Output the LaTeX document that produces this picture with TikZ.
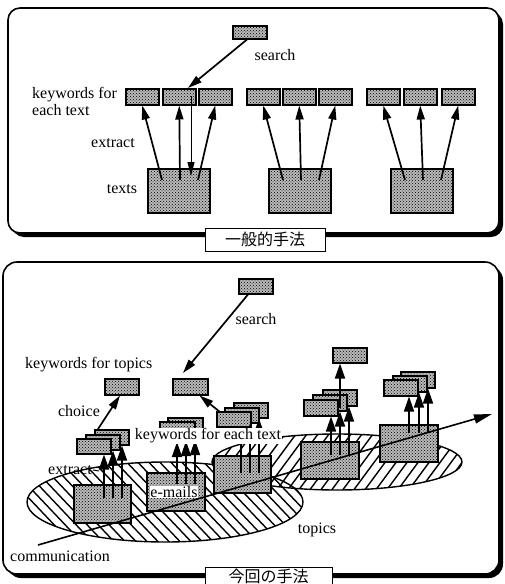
\documentclass[tikz,border=0pt]{standalone}
\usepackage{fontspec}
\setmainfont{Liberation Serif}
\newfontfamily\cjk{Noto Sans CJK JP}
\usetikzlibrary{patterns,arrows.meta,calc}
\begin{document}
\begin{tikzpicture}[x=1pt,y=-1pt,
  halftone/.style={preaction={fill=gray!55},pattern=crosshatch dots,pattern color=black},
  kbox/.style={draw,line width=1.5pt,halftone,anchor=north west,inner sep=0pt,minimum width=34pt,minimum height=15pt},
  tbox/.style={draw,line width=1.5pt,halftone,anchor=north west,inner sep=0pt,minimum width=58pt,minimum height=38pt},
  arr/.style={line width=1.7pt,-{Triangle[length=14pt,width=8pt]}},
  barr/.style={line width=1.6pt,-{Triangle[length=15pt,width=10pt]}},
  thinarr/.style={line width=1pt,-{Triangle[length=14pt,width=7pt]}},
  comm/.style={line width=1.6pt,-{Triangle[length=18pt,width=9pt]}},
  lbl/.style={font=\fontsize{16}{17}\selectfont,inner sep=1pt},
  wlbl/.style={lbl,fill=white,inner sep=0.5pt},
  cjklbl/.style={draw,line width=1pt,fill=white,inner sep=0pt,font=\cjk\fontsize{16}{16}\selectfont},
  hatch/.style={line width=1.4pt},
  frameline/.style={draw,fill=white,line width=1.6pt}
]
\useasboundingbox (0,0) rectangle (504,584);

% ---------- frames ----------
\fill[rounded corners=12pt] (12,12) rectangle (503,237);
\path[frameline,rounded corners=12pt] (8,8) rectangle (499,233);
\fill[rounded corners=14pt] (7,266) rectangle (503,578);
\path[frameline,rounded corners=14pt] (3,262) rectangle (499,574);

% ================= top panel =================
\node[kbox,minimum height=13pt] (s1) at (232,25) {};
\node[lbl] (searchA) at (275,55) {search};

\foreach \n/\x in {11/125,12/162,13/198,21/246,22/282,23/318,31/366,32/403,33/441}
  \node[kbox,minimum width=33pt,minimum height=16pt] (k\n) at (\x,88) {};

\node[tbox,minimum width=62pt,minimum height=44pt] (t1) at (147,168) {};
\node[tbox,minimum width=62pt,minimum height=44pt] (t2) at (268,168) {};
\node[tbox,minimum width=62pt,minimum height=44pt] (t3) at (390,168) {};

\node[lbl,anchor=west,align=left] (kwA) at (31,101) {keywords for\\each text};
\node[lbl] (extractA) at (113,143) {extract};
\node[lbl] (textsA) at (122,189) {texts};

\foreach \g in {1,2,3}{
  \draw[arr] ($(t\g.north west)+(15,12)$) -- (k\g1.south);
  \draw[arr] ($(t\g.north west)+(33,12)$) -- (k\g2.south);
  \draw[arr] ($(t\g.north west)+(51,12)$) -- (k\g3.south);
}
\draw[arr] ($(s1.south west)+(15,0)$) -- ($(k12.north west)+(26,0)$);
\draw[thinarr] ($(k12.north west)+(29,8)$) -- ($(t1.north west)+(44,8)$);

\node[cjklbl,minimum width=120pt,minimum height=23pt] (lab1) at (265,239.5) {一般的手法};

% ================= bottom panel =================
% topic areas
\begin{scope}
  \clip (337,462) ellipse [x radius=125,y radius=28];
  \foreach \i in {200,211,...,540} \draw[hatch] (\i,430) -- (\i-48,495);
\end{scope}
\draw[line width=1.4pt] (337,462) ellipse [x radius=125,y radius=28];
\begin{scope}
  \clip (165,502) ellipse [x radius=138,y radius=40];
  \foreach \i in {-100,-89,...,330} \draw[hatch] (\i,455) -- (\i+90,550);
\end{scope}
\draw[line width=1.4pt] (165,502) ellipse [x radius=138,y radius=40];

\node[kbox] (s2) at (238,278) {};
\node[lbl] (searchB) at (256,319) {search};
\node[kbox,minimum height=16pt] (kt1) at (104,378) {};
\node[kbox,minimum width=35pt,minimum height=16pt] (kt2) at (172,378) {};
\node[lbl,anchor=west] (kwt) at (24,365) {keywords for topics};
\node[lbl] (choice) at (79,411) {choice};
\draw[arr] ($(s2.south west)+(10,0)$) -- ($(kt2.north west)+(11,-5)$);

% left group
\node[kbox] (L3) at (94,429) {};
\node[kbox] (L2) at (85,434) {};
\node[kbox] (L1) at (76,438) {};
\node[tbox,minimum width=57pt] (T1) at (73,484) {};
\draw[barr] ($(T1.north west)+(31,14)$) -- ($(L1.south west)+(28,0)$);
\draw[barr] ($(T1.north west)+(40,14)$) -- ($(L2.south west)+(28,0)$);
\draw[barr] ($(T1.north west)+(49,14)$) -- ($(L3.south west)+(28,0)$);
\draw[arr] ($(L3.north west)+(4,0)$) -- ($(kt1.south west)+(16,0)$);
\node[lbl] (extractB) at (70,470) {extract};
\draw[line width=1pt] (extractB.east) -- ++(6,1);

% e-mails group
\node[kbox,minimum width=35pt] (M2) at (167,417) {};
\node[kbox,minimum width=35pt] (M1) at (159,421) {};
\node[tbox] (E) at (146,472) {};
\draw[barr] ($(E.north west)+(31,12)$) -- ($(E.north west)+(31,-30)$);
\draw[barr] ($(E.north west)+(40,12)$) -- ($(E.north west)+(40,-31)$);
\draw[barr] ($(E.north west)+(49,12)$) -- ($(E.north west)+(49,-32)$);
\node[wlbl] (em) at (174,492) {e-mails};

% middle group
\node[kbox] (R3) at (233,402) {};
\node[kbox] (R2) at (224,407) {};
\node[kbox] (R1) at (216,411) {};
\node[tbox,minimum width=57pt,minimum height=37pt] (T3) at (213,455) {};
\draw[barr] ($(T3.north west)+(28,18)$) -- ($(R1.south west)+(25,0)$);
\draw[barr] ($(T3.north west)+(37,18)$) -- ($(R2.south west)+(26,0)$);
\draw[barr] ($(T3.north west)+(46,18)$) -- ($(R3.south west)+(26,0)$);
\draw[arr] ($(R1.north west)+(4,1)$) -- ($(kt2.south east)+(-9,0)$);

\node[wlbl] (kfe) at (208,436) {keywords for each text};

% right-middle group
\node[kbox,minimum height=16pt] (Q3) at (322,389) {};
\node[kbox,minimum height=16pt] (Q2) at (312,394) {};
\node[kbox,minimum height=16pt] (Q1) at (303,399) {};
\node[kbox] (QT) at (332,347) {};
\node[tbox,minimum height=37pt] (T4) at (300,441) {};
\draw[barr] ($(T4.north west)+(31,14)$) -- ($(Q1.south west)+(28,0)$);
\draw[barr] ($(T4.north west)+(40,14)$) -- ($(Q2.south west)+(28,0)$);
\draw[barr] ($(T4.north west)+(49,14)$) -- ($(Q3.south west)+(27,0)$);
\draw[barr] ($(Q2.south west)+(28,-4)$) -- ($(QT.south west)+(8,0)$);

% right group
\node[kbox,minimum height=16pt] (P3) at (400,371) {};
\node[kbox,minimum height=16pt] (P2) at (392,375) {};
\node[kbox,minimum height=16pt] (P1) at (383,379) {};
\node[tbox,minimum height=37pt] (T5) at (379,424) {};
\draw[barr] ($(T5.north west)+(30,9)$) -- ($(P1.south west)+(26,0)$);
\draw[barr] ($(T5.north west)+(40,9)$) -- ($(P2.south west)+(27,0)$);
\draw[barr] ($(T5.north west)+(49,9)$) -- ($(P3.south west)+(28,0)$);

% communication
\node[lbl,anchor=west] (commtxt) at (9,556) {communication};
\coordinate (c0) at (38,545);
\coordinate (c1) at (492,414);
\draw[comm] (c0) -- (c1);
\node[lbl] (topics) at (317,530) {topics};

\node[cjklbl,minimum width=127pt,minimum height=19pt] (lab2) at (268.5,576.5) {今回の手法};
\end{tikzpicture}
\end{document}
